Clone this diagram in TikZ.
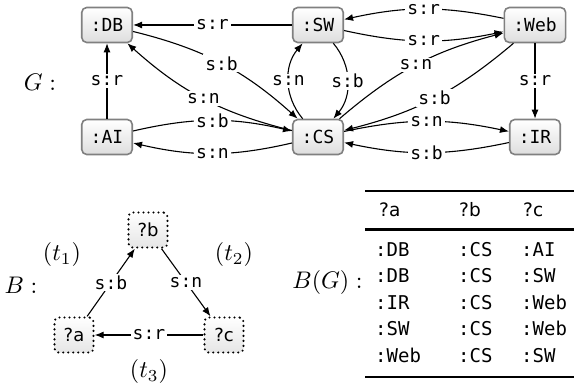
\documentclass[tikz,border=0pt]{standalone}
\usepackage{graphicx}
\usepackage{fontspec}
\setmonofont{DejaVu Sans Mono}
\newfontfamily\dvs{DejaVu Sans}
\usetikzlibrary{arrows.meta,shadings}
\newcommand{\mymathbig}[1]{\scalebox{2.4}{$#1$}}
\tikzset{
  gn/.style={draw=black!50, line width=1.6pt, rounded corners=5pt,
    top color=white, bottom color=black!13, minimum height=35pt,
    minimum width=49pt, inner xsep=9pt, font=\fontsize{18}{20}\selectfont\ttfamily},
  qn/.style={draw=black, line width=2.3pt, dash pattern=on 0pt off 5pt, line cap=round,
    rounded corners=4pt, top color=white, bottom color=black!10,
    minimum height=35pt, minimum width=39pt, inner xsep=5pt,
    font=\fontsize{18}{20}\selectfont\dvs},
  lbl/.style={fill=white, inner sep=2pt, font=\fontsize{18}{20}\selectfont\ttfamily},
  ar/.style={-{Latex[length=9pt,width=7pt]}, line width=1.1pt},
  mth/.style={inner sep=0pt},
  tt/.style={anchor=base west, inner sep=0pt, font=\fontsize{19}{21}\selectfont\ttfamily},
  th/.style={anchor=base west, inner sep=0pt, font=\fontsize{18.5}{21}\selectfont\dvs},
}
\begin{document}
\begin{tikzpicture}[x=1pt,y=-1pt]
\useasboundingbox (0,0) rectangle (583,387);
% graph G
\node[gn] (DB) at (107,25) {:DB};
\node[gn] (SW) at (318,25) {:SW};
\node[gn] (Web) at (535,25) {:Web};
\node[gn] (AI) at (107,137) {:AI};
\node[gn] (CS) at (318,137) {:CS};
\node[gn] (IR) at (535,137) {:IR};
\node[mth] (G) at (40,82) {\mymathbig{G:}};

\draw[ar] (SW) -- node[lbl]{s:r} (DB);
\draw[ar] (Web) to[bend right=12] node[lbl]{s:r} (SW);
\draw[ar] (SW) to[bend right=12] node[lbl]{s:r} (Web);
\draw[ar] (DB) to[bend left=14] node[lbl]{s:b} (CS);
\draw[ar] (CS) to[bend left=14] node[lbl]{s:n} (DB);
\draw[ar] (AI) -- node[lbl]{s:r} (DB);
\draw[ar] (AI) to[bend left=13] node[lbl]{s:b} (CS);
\draw[ar] (CS) to[bend left=13] node[lbl]{s:n} (AI);
\draw[ar] (CS) to[bend left=40] node[lbl]{s:n} (SW);
\draw[ar] (SW) to[bend left=40] node[lbl]{s:b} (CS);
\draw[ar] (CS) to[bend left=13] node[lbl]{s:n} (Web);
\draw[ar] (Web) to[bend left=13] node[lbl]{s:b} (CS);
\draw[ar] (CS) to[bend left=12] node[lbl]{s:n} (IR);
\draw[ar] (IR) to[bend left=12] node[lbl]{s:b} (CS);
\draw[ar] (Web) -- node[lbl]{s:r} (IR);

% pattern B
\node[qn] (b) at (148,230) {?b};
\node[qn] (a) at (74,335) {?a};
\node[qn] (c) at (224,335) {?c};
\draw[ar] (a) -- node[lbl]{s:b} (b);
\draw[ar] (b) -- node[lbl]{s:n} (c);
\draw[ar] (c) -- node[lbl]{s:r} (a);
\node[mth] (B) at (21,285) {\mymathbig{B:}};
\node[mth] (t1) at (62,254.5) {\mymathbig{(t_1)}};
\node[mth] (t2) at (234,254.5) {\mymathbig{(t_2)}};
\node[mth] (t3) at (149,371.5) {\mymathbig{(t_3)}};

% table B(G)
\node[mth, anchor=base] (BG) at (327.5,288) {\mymathbig{B(G):}};
\coordinate (r1a) at (365,191); \coordinate (r1b) at (574,191);
\coordinate (r2a) at (365,229.5); \coordinate (r2b) at (574,229.5);
\coordinate (r3a) at (365,377); \coordinate (r3b) at (574,377);
\draw[line width=2.6pt] (r1a) -- (r1b);
\draw[line width=2.2pt] (r2a) -- (r2b);
\draw[line width=2.6pt] (r3a) -- (r3b);
\node[th] (h1) at (379,217) {?a};
\node[th] (h2) at (459,217) {?b};
\node[th] (h3) at (523,217) {?c};
\node[tt] (c11) at (375,256) {:DB};  \node[tt] (c12) at (458,256) {:CS}; \node[tt] (c13) at (521,256) {:AI};
\node[tt] (c21) at (375,282.5) {:DB};  \node[tt] (c22) at (458,282.5) {:CS}; \node[tt] (c23) at (521,282.5) {:SW};
\node[tt] (c31) at (375,309) {:IR};  \node[tt] (c32) at (458,309) {:CS}; \node[tt] (c33) at (521,309) {:Web};
\node[tt] (c41) at (375,335.5) {:SW};  \node[tt] (c42) at (458,335.5) {:CS}; \node[tt] (c43) at (521,335.5) {:Web};
\node[tt] (c51) at (375,362) {:Web}; \node[tt] (c52) at (458,362) {:CS}; \node[tt] (c53) at (521,362) {:SW};
\end{tikzpicture}
\end{document}
